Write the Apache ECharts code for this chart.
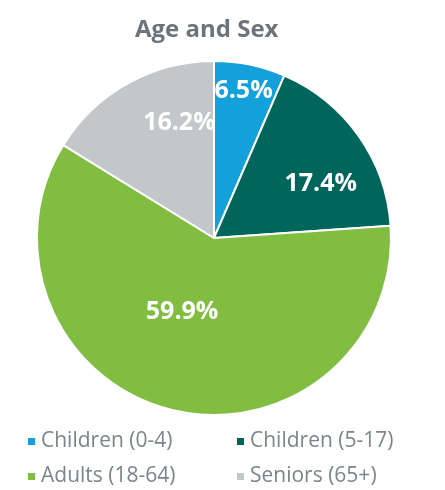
<!DOCTYPE html>
<html>
<head>
<meta charset="utf-8">
<script src="https://cdn.jsdelivr.net/npm/echarts@6/dist/echarts.min.js"></script>
<style>
html,body{margin:0;padding:0;background:#fff;}
#c{width:445px;height:490px;}
</style>
</head>
<body>
<div id="c"></div>
<script>
const categories = ['Children (0-4)', 'Children (5-17)', 'Adults (18-64)', 'Seniors (65+)'];
const values = [6.5, 17.4, 59.9, 16.2];
const colors = ['#14a0da', '#00665b', '#81bd41', '#c4c7c9'];
const labelOffsets = [[11, -58], [32, -1], [-10, -15], [10, -35]];

const chart = echarts.init(document.getElementById('c'));
const data = categories.map((name, i) => ({
  name: name,
  value: values[i],
  itemStyle: { color: colors[i] },
  label: { offset: labelOffsets[i] }
}));
const legendText = { color: '#7b858a', fontSize: 21, lineHeight: 20, fontFamily: 'Open Sans' };
chart.setOption({
  animation: false,
  title: {
    text: 'Age and Sex',
    left: 130,
    top: 13,
    textStyle: { color: '#6b747a', fontSize: 24, fontWeight: 'bold', fontFamily: 'Open Sans' }
  },
  legend: [
    {
      data: [categories[0], categories[2]],
      orient: 'vertical',
      left: 26,
      top: 431,
      padding: 0,
      itemWidth: 9,
      itemHeight: 9,
      itemGap: 14,
      icon: 'rect',
      textStyle: legendText
    },
    {
      data: [categories[1], categories[3]],
      orient: 'vertical',
      left: 235,
      top: 431,
      padding: 0,
      itemWidth: 9,
      itemHeight: 9,
      itemGap: 14,
      icon: 'rect',
      textStyle: legendText
    }
  ],
  series: [{
    type: 'pie',
    center: [214, 238],
    radius: 177,
    startAngle: 90,
    clockwise: true,
    itemStyle: { borderColor: '#fff', borderWidth: 2 },
    label: {
      show: true,
      position: 'inside',
      formatter: p => p.value.toFixed(1) + '%',
      color: '#fff',
      fontSize: 25,
      fontWeight: 'bold',
      fontFamily: 'Open Sans'
    },
    labelLine: { show: false },
    emphasis: { disabled: true },
    data: data
  }]
});
</script>
</body>
</html>
